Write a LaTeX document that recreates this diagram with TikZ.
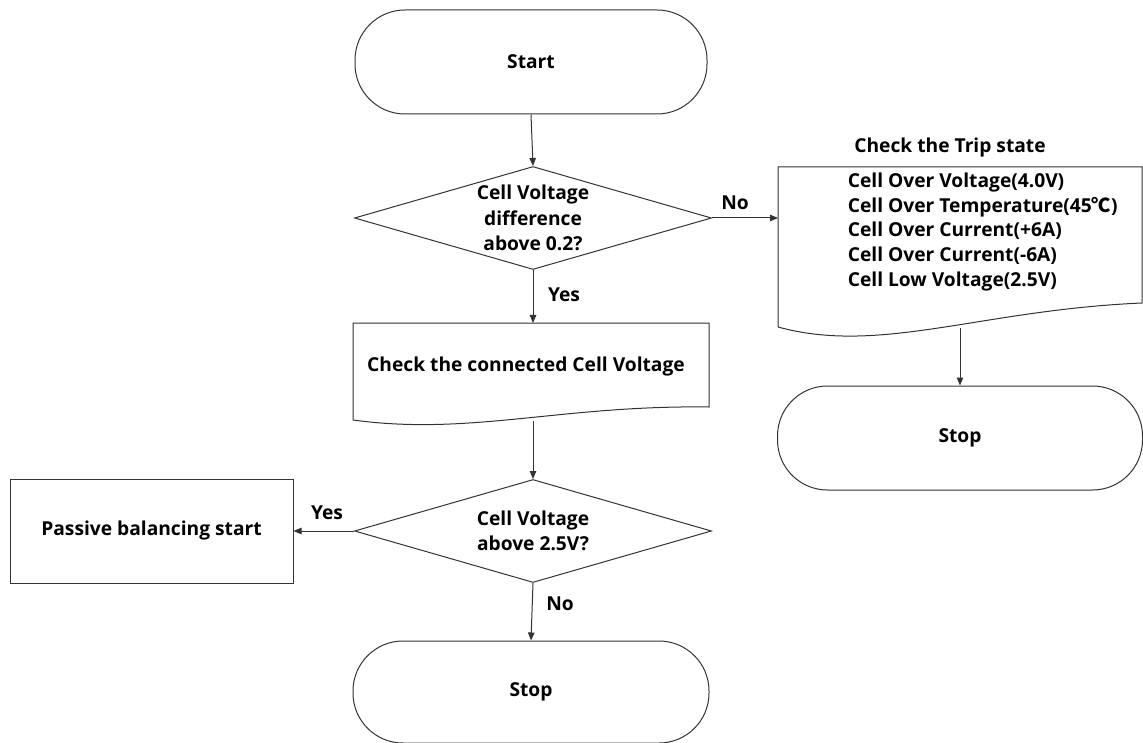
\documentclass[tikz,border=0pt]{standalone}
\usepackage{fontspec}
\setmainfont{Open Sans}
\newfontfamily\cjkfont{Noto Sans CJK KR}
\usetikzlibrary{shapes.geometric,arrows.meta}
\definecolor{ink}{HTML}{333333}

\begin{document}
\begin{tikzpicture}[x=1pt,y=-1pt,
  line width=1pt,
  every node/.style={font=\bfseries\fontsize{19.2}{25.5}\selectfont, text=black},
  terminal/.style={draw=ink, rectangle, rounded corners=50pt, minimum width=352pt, minimum height=104pt},
  decision/.style={draw=ink, diamond, inner sep=0pt, minimum width=357pt, minimum height=103pt},
  process/.style={draw=ink, rectangle, minimum width=283pt, minimum height=104pt},
  flow/.style={draw=ink, -{Triangle[length=8pt,width=6.5pt]}},
  outline/.style={draw=ink},
  lbl/.style={inner sep=1pt}]

\useasboundingbox (0,0) rectangle (1143,743);

% terminals and decisions
\node[terminal] (start) at (531,62) {Start};
\node[decision, label={[align=center]center:Cell Voltage\\difference\\above 0.2?}] (d1) at (533,218) {};
\node[decision, label={[align=center]center:Cell Voltage\\above 2.5V?}] (d2) at (533,531) {};
\node[process] (pb) at (151.5,531) {Passive balancing start};
\node[terminal, minimum width=356pt, minimum height=102pt] (stop1) at (531,692) {Stop};
\node[terminal, minimum width=365pt, minimum height=104pt] (stop2) at (960,438) {Stop};

% document: connected cell voltage
\draw[outline] (353,323) -- (709,323) -- (709,407)
  .. controls (560,405) and (470,436) .. (353,420) -- cycle;
\node (chk) at (526,367) {Check the connected Cell Voltage};
\coordinate (chk-in) at (533,323);
\coordinate (chk-out) at (533,421);

% document: trip state
\draw[outline] (778,167) -- (1142,167) -- (1142,303)
  .. controls (980,310) and (880,355) .. (778,327) -- cycle;
\node (triptitle) at (950,148) {Check the Trip state};
\node[align=left, anchor=west, font=\bfseries\fontsize{19.2}{24.7}\selectfont] (trip) at (844,232)
  {Cell Over Voltage(4.0V)\\Cell Over Temperature(45{\cjkfont ℃})\\Cell Over Current(+6A)\\Cell Over Current(-6A)\\Cell Low Voltage(2.5V)};
\coordinate (trip-in) at (778,218);
\coordinate (trip-out) at (960,328);

% connectors
\draw[flow] (start.south) -- (d1.north);
\draw[flow] (d1.south) -- (chk-in);
\draw[flow] (chk-out) -- (d2.north);
\draw[flow] (d2.west) -- (pb.east);
\draw[flow] (d2.south) -- (stop1.north);
\draw[flow] (d1.east) -- (trip-in);
\draw[flow] (trip-out) -- (stop2.north);

% branch labels
\node[lbl] (l-no1) at (735,203) {No};
\node[lbl] (l-yes1) at (564,295) {Yes};
\node[lbl] (l-yes2) at (327,513) {Yes};
\node[lbl] (l-no2) at (560,604) {No};
\end{tikzpicture}
\end{document}
